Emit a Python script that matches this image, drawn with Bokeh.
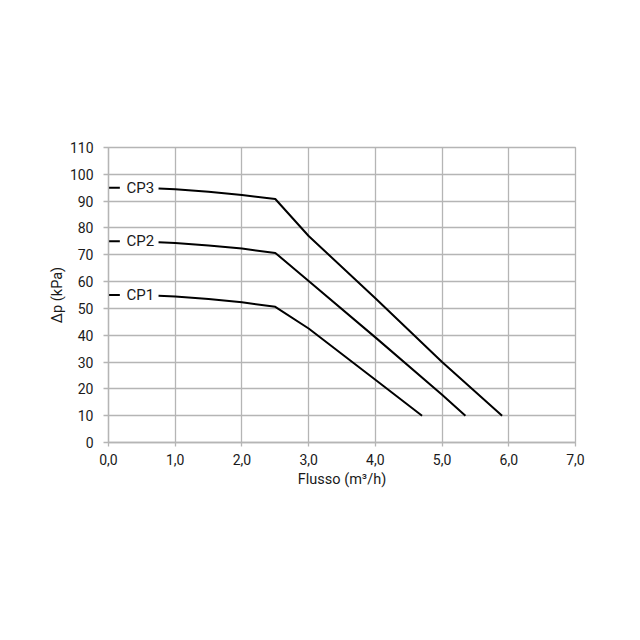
from bokeh.plotting import figure
from bokeh.models import Range1d, FixedTicker
from bokeh.core.properties import value
from bokeh.embed import file_html
from bokeh.resources import INLINE

# --- data ---
cp1_x = [0.75, 1.0, 1.5, 2.0, 2.5, 3.0, 4.0, 4.7]
cp1_y = [54.7, 54.4, 53.5, 52.3, 50.6, 42.5, 23.4, 10.0]
cp2_x = [0.75, 1.0, 1.5, 2.0, 2.5, 3.0, 4.0, 5.0, 5.35]
cp2_y = [74.7, 74.4, 73.5, 72.3, 70.7, 60.2, 39.2, 17.8, 10.0]
cp3_x = [0.75, 1.0, 1.5, 2.0, 2.5, 3.0, 4.0, 5.0, 5.9]
cp3_y = [94.7, 94.4, 93.5, 92.3, 90.8, 77.0, 53.8, 30.0, 10.0]

series_names = ["CP1", "CP2", "CP3"]
series_levels = [55, 75, 95]
label_dash_x = [0.0, 0.17]
label_text_x = 0.27

x_ticks = [0, 1, 2, 3, 4, 5, 6, 7]
x_tick_labels = ["0,0", "1,0", "2,0", "3,0", "4,0", "5,0", "6,0", "7,0"]
y_ticks = [0, 10, 20, 30, 40, 50, 60, 70, 80, 90, 100, 110]

FONT = "Roboto"
GRID = "#b5b5b5"
TXT = "#1a1a1a"

p = figure(width=624, height=624, frame_width=467, frame_height=295,
           min_border_left=108, min_border_top=147, min_border_right=49,
           min_border_bottom=182,
           x_range=Range1d(0, 7), y_range=Range1d(0, 110),
           output_backend="svg", toolbar_location=None)

p.background_fill_color = "white"
p.border_fill_color = "white"
p.outline_line_color = GRID
p.outline_line_width = 1.3

for g in (p.xgrid, p.ygrid):
    g.grid_line_color = GRID
    g.grid_line_width = 1.3
p.xgrid.ticker = FixedTicker(ticks=x_ticks)
p.ygrid.ticker = FixedTicker(ticks=y_ticks)

p.xaxis.ticker = FixedTicker(ticks=x_ticks)
p.xaxis.major_label_overrides = {t: l for t, l in zip(x_ticks, x_tick_labels)}
p.yaxis.ticker = FixedTicker(ticks=y_ticks)

for ax in (p.xaxis, p.yaxis):
    ax.axis_line_color = GRID
    ax.axis_line_width = 1.3
    ax.major_tick_line_color = GRID
    ax.major_tick_line_width = 1.3
    ax.major_tick_in = 0
    ax.minor_tick_line_color = None
    ax.major_label_text_font = FONT
    ax.major_label_text_font_size = "14px"
    ax.major_label_text_color = TXT
    ax.axis_label_text_font = FONT
    ax.axis_label_text_font_size = "14.5px"
    ax.axis_label_text_font_style = "normal"
    ax.axis_label_text_color = TXT

p.xaxis.major_tick_out = 4
p.yaxis.major_tick_out = 5
p.xaxis.major_label_standoff = 7
p.yaxis.major_label_standoff = 10
p.xaxis.axis_label = "Flusso (m³/h)"
p.yaxis.axis_label = "Δp (kPa)"
p.xaxis.axis_label_standoff = 3
p.yaxis.axis_label_standoff = 1

for xs, ys in ((cp1_x, cp1_y), (cp2_x, cp2_y), (cp3_x, cp3_y)):
    p.line(xs, ys, line_color="black", line_width=2)

for name, lvl in zip(series_names, series_levels):
    p.line(label_dash_x, [lvl, lvl], line_color="black", line_width=2)

p.text(x=[label_text_x] * len(series_names), y=series_levels, text=series_names,
       text_font=value(FONT), text_font_size="15px", text_color=TXT,
       text_baseline="middle", text_align="left")

open("out.html", "w").write(file_html(p, INLINE))
